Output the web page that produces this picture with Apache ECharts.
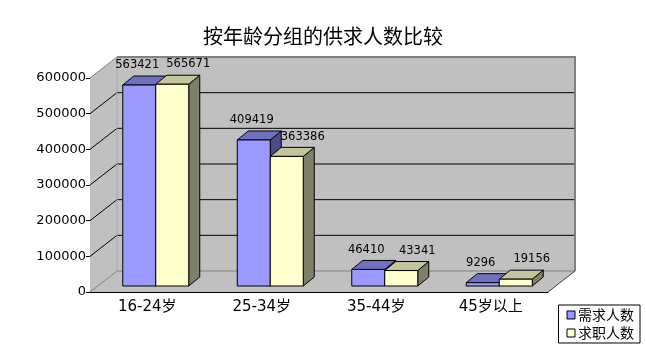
<!DOCTYPE html>
<html>
<head>
<meta charset="utf-8">
<script src="https://cdn.jsdelivr.net/npm/echarts@6/dist/echarts.min.js"></script>
<style>html,body{margin:0;padding:0;background:#fff;}#c{width:646px;height:357px;}</style>
</head>
<body>
<div id="c"></div>
<script>
// ---- data ----
const titleText = '按年龄分组的供求人数比较';
const categories = ['16-24岁', '25-34岁', '35-44岁', '45岁以上'];
const seriesNames = ['需求人数', '求职人数'];
const demandValues = [563421, 409419, 46410, 9296];
const seekerValues = [565671, 363386, 43341, 19156];
const yTicks = [0, 100000, 200000, 300000, 400000, 500000, 600000];

// ---- styling constants ----
const NUM_FONT = '"DejaVu Sans", "Noto Sans CJK SC", sans-serif';
const CJK_FONT = '"Noto Sans CJK SC", sans-serif';
const WALL_DX = 27, WALL_DY = -21;      // depth of the 3D box
const BAR_FX = 8.5, BAR_FY = -6;        // bar front plane offset
const BAR_DX = 11, BAR_DY = -9;         // bar depth
const BAR_RATIO = 33 / 114.5;           // bar width per category width
const palettes = [
  { front: '#9999ff', top: '#7070c0', side: '#4d4d85' },
  { front: '#ffffcc', top: '#c4c49e', side: '#80806a' }
];

const yMin = yTicks[0], yMax = yTicks[yTicks.length - 1];
const yStep = yTicks[1] - yTicks[0];

function wallsRender(params, api) {
  const w = api.size([1, 0])[0];
  const p0 = api.coord([0, yMin]);
  const xL = p0[0] - w / 2;
  const xR = xL + w * categories.length;
  const yB = p0[1];
  const yT = api.coord([0, yMax])[1];
  const children = [];
  children.push({ type: 'polygon', shape: { points: [[xL, yT], [xL + WALL_DX, yT + WALL_DY], [xL + WALL_DX, yB + WALL_DY], [xL, yB]] },
    style: { fill: '#c0c0c0', stroke: null } });
  children.push({ type: 'rect', shape: { x: xL + WALL_DX, y: yT + WALL_DY, width: xR - xL, height: yB - yT },
    style: { fill: '#c0c0c0', stroke: null } });
  children.push({ type: 'polygon', shape: { points: [[xL, yB], [xR, yB], [xR + WALL_DX, yB + WALL_DY], [xL + WALL_DX, yB + WALL_DY]] },
    style: { fill: '#c0c0c0', stroke: null } });
  yTicks.forEach(function (t, i) {
    const y = api.coord([0, t])[1];
    const inner = i > 0 && i < yTicks.length - 1;
    const col = inner ? '#000' : '#808080';
    children.push({ type: 'polyline', shape: { points: [[xL, y], [xL + WALL_DX, y + WALL_DY], [xR + WALL_DX, y + WALL_DY]] },
      style: { stroke: col, lineWidth: 1, fill: null } });
  });
  children.push({ type: 'line', shape: { x1: xL + WALL_DX, y1: yT + WALL_DY, x2: xL + WALL_DX, y2: yB + WALL_DY },
    style: { stroke: '#a8a8a8', lineWidth: 1 } });
  children.push({ type: 'line', shape: { x1: xR + WALL_DX, y1: yT + WALL_DY, x2: xR + WALL_DX, y2: yB + WALL_DY },
    style: { stroke: '#808080', lineWidth: 2 } });
  children.push({ type: 'line', shape: { x1: xL + WALL_DX, y1: yT + WALL_DY, x2: xR + WALL_DX + 1, y2: yT + WALL_DY },
    style: { stroke: '#808080', lineWidth: 2 } });
  children.push({ type: 'line', shape: { x1: xR, y1: yB, x2: xR + WALL_DX, y2: yB + WALL_DY },
    style: { stroke: '#404040', lineWidth: 1 } });
  return { type: 'group', children: children };
}

function makeBarRender(sIdx) {
  const pal = palettes[sIdx];
  return function (params, api) {
    const ci = api.value(0), v = api.value(1);
    const base = api.coord([ci, 0]);
    const top = api.coord([ci, v]);
    const w = api.size([1, 0])[0];
    const bw = w * BAR_RATIO;
    const x0 = base[0] + BAR_FX + (sIdx === 0 ? -bw : 0);
    const x1 = x0 + bw;
    const yb = base[1] + BAR_FY;
    const yt = top[1] + BAR_FY;
    const st = { stroke: '#000', lineWidth: 1 };
    return {
      type: 'group',
      children: [
        { type: 'polygon', shape: { points: [[x1, yt], [x1 + BAR_DX, yt + BAR_DY], [x1 + BAR_DX, yb + BAR_DY], [x1, yb]] },
          style: Object.assign({ fill: pal.side }, st) },
        { type: 'polygon', shape: { points: [[x0, yt], [x1, yt], [x1 + BAR_DX, yt + BAR_DY], [x0 + BAR_DX, yt + BAR_DY]] },
          style: Object.assign({ fill: pal.top }, st) },
        { type: 'rect', shape: { x: x0, y: yt, width: bw, height: yb - yt },
          style: Object.assign({ fill: pal.front }, st) },
        { type: 'text', x: x0 + bw / 2 + (sIdx === 0 ? -2 : 16), y: yt + BAR_DY - 5,
          style: { text: String(v), fill: '#000', font: '11.5px ' + NUM_FONT, textAlign: 'center', textVerticalAlign: 'bottom' } }
      ]
    };
  };
}

const chart = echarts.init(document.getElementById('c'));
chart.setOption({
  animation: false,
  backgroundColor: '#fff',
  title: {
    text: titleText, left: 'center', top: 21,
    textStyle: { fontSize: 20, fontWeight: 'normal', color: '#000', fontFamily: CJK_FONT }
  },
  legend: {
    data: seriesNames,
    orient: 'vertical',
    right: 6, top: 305,
    icon: 'rect',
    itemWidth: 8, itemHeight: 8, itemGap: 4,
    padding: [3, 6, 3, 8],
    borderColor: '#000', borderWidth: 1, backgroundColor: '#fff',
    itemStyle: { borderColor: '#000', borderWidth: 1 },
    textStyle: { fontSize: 14, color: '#000', fontFamily: CJK_FONT, padding: [0, 0, 0, -2] }
  },
  grid: { left: 90, right: 98, top: 78, bottom: 65, containLabel: false },
  xAxis: {
    type: 'category', data: categories, boundaryGap: true,
    axisLine: { lineStyle: { color: '#000', width: 1 } },
    axisTick: { length: 5, lineStyle: { color: '#000' } },
    axisLabel: { color: '#000', fontSize: 15, fontFamily: NUM_FONT, margin: 8 },
    splitLine: { show: false }
  },
  yAxis: {
    type: 'value', min: yMin, max: yMax, interval: yStep,
    axisLine: { show: true, lineStyle: { color: '#000', width: 1 } },
    axisTick: { show: true, length: 4, lineStyle: { color: '#000' } },
    axisLabel: { color: '#000', fontSize: 13, fontFamily: NUM_FONT, margin: 4,
      formatter: function (v) { return String(v); } },
    splitLine: { show: false }
  },
  series: [
    { type: 'custom', name: '_walls', silent: true, z: 1, renderItem: wallsRender, data: [[0, 0]], clip: false },
    { type: 'custom', name: seriesNames[0], z: 2, itemStyle: { color: palettes[0].front }, renderItem: makeBarRender(0),
      data: demandValues.map(function (v, i) { return [i, v]; }), clip: false },
    { type: 'custom', name: seriesNames[1], z: 3, itemStyle: { color: palettes[1].front }, renderItem: makeBarRender(1),
      data: seekerValues.map(function (v, i) { return [i, v]; }), clip: false }
  ]
});
</script>
</body>
</html>
